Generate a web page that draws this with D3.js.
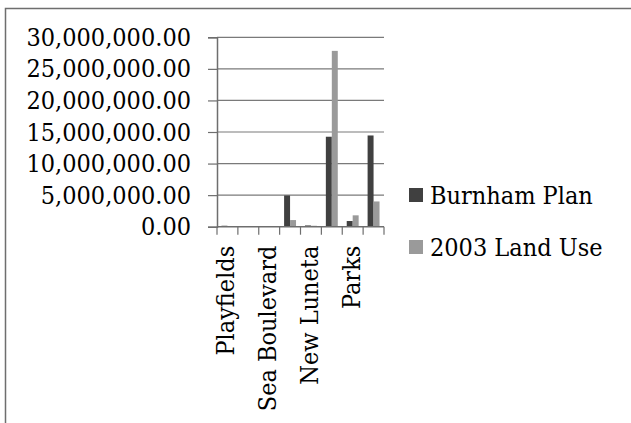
<!DOCTYPE html>
<html>
<head>
<meta charset="utf-8">
<script src="https://cdn.jsdelivr.net/npm/d3@7"></script>
<style>
  html, body { margin: 0; padding: 0; background: #fff; }
  svg { display: block; }
  text { font-family: "DejaVu Serif Condensed", "DejaVu Serif", serif; font-stretch: condensed; fill: #000; }
</style>
</head>
<body>
<svg id="chart" width="631" height="423"></svg>
<script>
// Area by category (sq. m): Burnham Plan vs 2003 Land Use
const categories = ["Playfields", "", "Sea Boulevard", "", "New Luneta", "", "Parks", ""];
const burnhamPlan = [150000, 0, 0, 4950000, 200000, 14250000, 900000, 14450000];
const landUse2003 = [0, 0, 0, 1050000, 150000, 27850000, 1800000, 4000000];
const seriesNames = ["Burnham Plan", "2003 Land Use"];
const yTicks = [0, 5000000, 10000000, 15000000, 20000000, 25000000, 30000000];

const colors = ["#404040", "#9a9a9a"];
const fontSize = "25px";
const svg = d3.select("#chart");

// outer frame (runs past the right and bottom edges)
svg.append("rect")
  .attr("x", 5.5).attr("y", 8.5)
  .attr("width", 700).attr("height", 500)
  .attr("fill", "none").attr("stroke", "#6e6e6e").attr("stroke-width", 1.5);

const plot = { left: 217, right: 384, top: 37.3, bottom: 226.7 };

const x = d3.scaleBand()
  .domain(d3.range(categories.length))
  .range([plot.left, plot.right])
  .paddingInner(0).paddingOuter(0);

const y = d3.scaleLinear()
  .domain([0, 30000000])
  .range([plot.bottom, plot.top]);

const fmt = d3.format(",.2f");

// horizontal gridlines
svg.append("g")
  .selectAll("line")
  .data(yTicks.slice(1))
  .join("line")
  .attr("x1", plot.left).attr("x2", plot.right)
  .attr("y1", d => y(d)).attr("y2", d => y(d))
  .attr("stroke", "#7a7a7a").attr("stroke-width", 1.2);

// bars
const bw = x.bandwidth() / 3.5;
const series = [burnhamPlan, landUse2003];
series.forEach((vals, si) => {
  svg.append("g")
    .selectAll("rect")
    .data(vals)
    .join("rect")
    .attr("x", (d, i) => x(i) + 0.75 * bw + si * bw)
    .attr("width", bw)
    .attr("y", d => y(d))
    .attr("height", d => y(0) - y(d))
    .attr("fill", colors[si]);
});

// y axis
const yAxis = svg.append("g")
  .attr("transform", `translate(${plot.left},0)`)
  .call(d3.axisLeft(y).tickValues(yTicks).tickFormat(fmt).tickSize(9).tickPadding(17));
yAxis.select(".domain").attr("stroke", "#6e6e6e").attr("stroke-width", 1.5);
yAxis.selectAll(".tick line").attr("stroke", "#6e6e6e").attr("stroke-width", 1.2);
yAxis.attr("font-family", null).attr("font-size", null);
yAxis.selectAll(".tick text")
  .style("font-size", fontSize)
  .attr("fill", "#000");

// x axis with category boundary ticks
const xg = svg.append("g");
xg.append("line")
  .attr("x1", plot.left).attr("x2", plot.right)
  .attr("y1", plot.bottom).attr("y2", plot.bottom)
  .attr("stroke", "#6e6e6e").attr("stroke-width", 1.5);
xg.selectAll("line.tk")
  .data(d3.range(categories.length + 1))
  .join("line")
  .attr("class", "tk")
  .attr("x1", i => plot.left + i * x.step()).attr("x2", i => plot.left + i * x.step())
  .attr("y1", plot.bottom).attr("y2", plot.bottom + 8)
  .attr("stroke", "#6e6e6e").attr("stroke-width", 1.2);

// rotated category labels
xg.selectAll("text")
  .data(categories.map((c, i) => ({ c, i })).filter(d => d.c !== ""))
  .join("text")
  .attr("transform", d => `translate(${x(d.i) + x.bandwidth() / 2 + 7},${plot.bottom + 19}) rotate(-90)`)
  .attr("text-anchor", "end")
  .style("font-size", fontSize)
  .text(d => d.c);

// legend
const legend = svg.append("g");
seriesNames.forEach((name, i) => {
  const ly = 188 + i * 52;
  legend.append("rect")
    .attr("x", 409).attr("y", ly).attr("width", 14).attr("height", 14)
    .attr("fill", colors[i]);
  legend.append("text")
    .attr("x", 430).attr("y", ly + 16)
    .style("font-size", fontSize)
    .text(name);
});
</script>
</body>
</html>
